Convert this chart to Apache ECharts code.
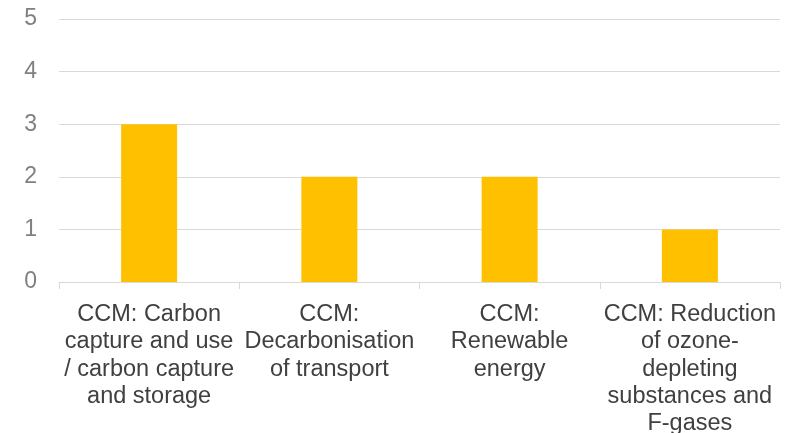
<!DOCTYPE html>
<html>
<head>
<meta charset="utf-8">
<script src="https://cdn.jsdelivr.net/npm/echarts@6/dist/echarts.min.js"></script>
<style>html,body{margin:0;padding:0;background:#fff;}#c{width:789px;height:433px;}</style>
</head>
<body>
<div id="c"></div>
<script>
const categories = [
  "CCM: Carbon capture and use / carbon capture and storage",
  "CCM: Decarbonisation of transport",
  "CCM: Renewable energy",
  "CCM: Reduction of ozone-depleting substances and F-gases"
];
const tickLabels = [
  "CCM: Carbon\ncapture and use\n/ carbon capture\nand storage",
  "CCM:\nDecarbonisation\nof transport",
  "CCM:\nRenewable\nenergy",
  "CCM: Reduction\nof ozone-\ndepleting\nsubstances and\nF-gases"
];
const values = [3, 2, 2, 1];
const yTicks = [0, 1, 2, 3, 4, 5];

const chart = echarts.init(document.getElementById('c'), null, {renderer: 'canvas'});
chart.setOption({
  animation: false,
  grid: {left: 59, right: 9, top: 19, bottom: 151, containLabel: false, outerBoundsMode: 'none'},
  xAxis: {
    type: 'category',
    data: categories,
    axisLine: {lineStyle: {color: '#d9d9d9', width: 1}},
    axisTick: {show: true, length: 7, lineStyle: {color: '#d9d9d9'}},
    axisLabel: {
      interval: 0,
      margin: 19,
      color: '#404040',
      fontFamily: 'Liberation Sans, Arial, sans-serif',
      fontSize: 23.5,
      lineHeight: 27.3,
      align: 'center',
      formatter: function (v, i) { return tickLabels[i]; }
    }
  },
  yAxis: {
    type: 'value',
    min: yTicks[0],
    max: yTicks[yTicks.length - 1],
    interval: 1,
    axisLine: {show: false},
    axisTick: {show: false},
    splitLine: {lineStyle: {color: '#d9d9d9', width: 1}},
    axisLabel: {
      margin: 22,
      color: '#808080',
      fontFamily: 'Liberation Sans, Arial, sans-serif',
      fontSize: 23,
      padding: [3, 0, 0, 0]
    }
  },
  series: [{
    type: 'bar',
    data: values,
    barWidth: 56,
    itemStyle: {color: '#ffc000'}
  }]
});
</script>
</body>
</html>
